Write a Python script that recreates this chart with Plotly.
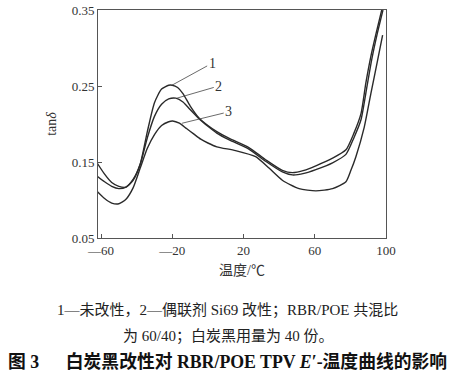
import plotly.graph_objects as go

# ---- data ----
c1_x = [-62, -58, -54, -50, -46, -42, -38, -34, -30, -26, -22, -20, -17, -14, -10, -5, 0, 5, 12, 23, 32.4, 41.8, 47.4, 54, 60.6, 70, 77.5, 82, 86, 88.7, 91.5, 94.4, 97.6]
c1_y = [0.148, 0.134, 0.123, 0.118, 0.117, 0.126, 0.147, 0.190, 0.228, 0.246, 0.251, 0.251, 0.248, 0.240, 0.224, 0.208, 0.198, 0.190, 0.181, 0.169, 0.153, 0.139, 0.136, 0.139, 0.145, 0.155, 0.166, 0.188, 0.214, 0.254, 0.289, 0.319, 0.350]

c2_x = [-62, -58, -54, -50, -46, -42, -38, -34, -30, -26, -22, -18, -14, -10, -5, 0, 5, 12, 23, 32.4, 41.8, 47.4, 54, 60.6, 70, 77.5, 82, 86, 89, 92, 95, 98.3]
c2_y = [0.131, 0.124, 0.118, 0.115, 0.117, 0.127, 0.147, 0.182, 0.210, 0.226, 0.233, 0.234, 0.229, 0.219, 0.207, 0.197, 0.188, 0.179, 0.167, 0.151, 0.137, 0.133, 0.135, 0.140, 0.149, 0.160, 0.182, 0.206, 0.245, 0.285, 0.318, 0.350]

c3_x = [-62, -58, -54, -50, -46, -42, -38, -34, -30, -26, -22, -19.8, -16, -12, -8, -4, 0, 5, 15.5, 26.8, 34.3, 41.8, 51.2, 60.6, 70, 77.5, 80.3, 83.1, 87.8, 91.5, 95.3, 98.1]
c3_y = [0.111, 0.102, 0.096, 0.095, 0.101, 0.116, 0.142, 0.168, 0.186, 0.198, 0.203, 0.204, 0.201, 0.194, 0.187, 0.180, 0.175, 0.170, 0.165, 0.157, 0.142, 0.126, 0.115, 0.112, 0.115, 0.124, 0.139, 0.157, 0.196, 0.240, 0.284, 0.317]

x_ticks = [-60, -20, 20, 60, 100]
x_tick_text = ["—60", "—20", "20", "60", "100"]
y_ticks = [0.05, 0.15, 0.25, 0.35]
y_tick_text = ["0.05", "0.15", "0.25", "0.35"]

labels = ["1", "2", "3"]
label_pos_x = [2.4, 6.1, 11.7]
label_pos_y = [0.280, 0.250, 0.216]
label_tip_x = [-20.2, -17.4, -14.5]
label_tip_y = [0.251, 0.234, 0.201]

x_title = "温度/℃"
y_title = "tan<i>δ</i>"
caption1 = "1—未改性，2—偶联剂 Si69 改性；RBR/POE 共混比"
caption2 = "为 60/40；白炭黑用量为 40 份。"
caption3 = "<b>图 3      白炭黑改性对 RBR/POE TPV <i>E</i>′-温度曲线的影响</b>"

SERIF = "Liberation Serif, Noto Sans CJK SC, serif"
CJK = "Liberation Serif, Noto Sans CJK SC"

fig = go.Figure()
for xs, ys in [(c1_x, c1_y), (c2_x, c2_y), (c3_x, c3_y)]:
    fig.add_trace(go.Scatter(x=xs, y=ys, mode="lines",
                             line=dict(color="#2a2a2a", width=1.4, shape="spline", smoothing=0.6),
                             showlegend=False, hoverinfo="skip"))

anns = []
for t, lx, ly, tx, ty in zip(labels, label_pos_x, label_pos_y, label_tip_x, label_tip_y):
    anns.append(dict(x=tx, y=ty, ax=lx, ay=ly, axref="x", ayref="y", xref="x", yref="y",
                     text=t, showarrow=True, arrowhead=0, arrowwidth=0.8, arrowcolor="#444",
                     font=dict(family=SERIF, size=14, color="#333"), standoff=0, startstandoff=0))

anns.append(dict(x=0.45, y=-0.316, xref="paper", yref="paper", text=caption1, showarrow=False,
                 font=dict(family=CJK, size=15, color="#222"), xanchor="center", yanchor="middle"))
anns.append(dict(x=0.45, y=-0.433, xref="paper", yref="paper", text=caption2, showarrow=False,
                 font=dict(family=CJK, size=15, color="#222"), xanchor="center", yanchor="middle"))
anns.append(dict(x=0.45, y=-0.545, xref="paper", yref="paper", text=caption3, showarrow=False,
                 font=dict(family=CJK, size=17.8, color="#111"), xanchor="center", yanchor="middle"))

fig.update_layout(
    width=458, height=381,
    margin=dict(l=98, r=72, t=10, b=143),
    plot_bgcolor="white", paper_bgcolor="white",
    annotations=anns,
    hovermode=False,
    xaxis=dict(range=[-61.7, 100], tickvals=x_ticks, ticktext=x_tick_text, automargin=False,
               ticks="inside", ticklen=4, tickcolor="#555", showline=True, linecolor="#555",
               linewidth=1, mirror=True, showgrid=False, zeroline=False, ticklabeloverflow="allow",
               tickfont=dict(family=SERIF, size=13, color="#333"),
               title=dict(text=x_title, font=dict(family=CJK, size=14, color="#333"), standoff=8)),
    yaxis=dict(range=[0.05, 0.35], tickvals=y_ticks, ticktext=y_tick_text, automargin=False,
               ticks="inside", ticklen=4, tickcolor="#555", showline=True, linecolor="#555",
               linewidth=1, mirror=True, showgrid=False, zeroline=False, ticklabeloverflow="allow",
               tickfont=dict(family=SERIF, size=13, color="#333"),
               title=dict(text=y_title, font=dict(family=SERIF, size=14, color="#333"), standoff=11)),
)

# remove the browser's default 8px page margin so the figure fills the window
fig.write_html("out.html", config={"displayModeBar": False, "staticPlot": True},
               post_script="document.body.style.margin='0';document.body.style.overflow='hidden';")
